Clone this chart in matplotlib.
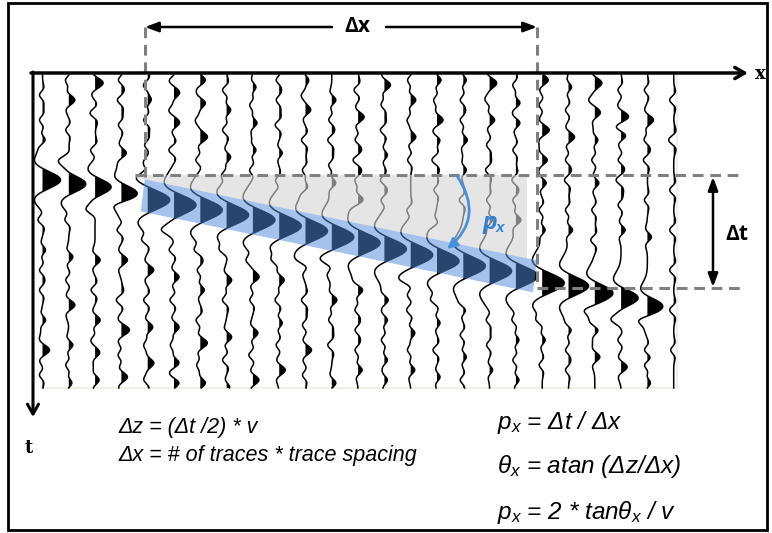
import numpy as np
import matplotlib.pyplot as plt
from matplotlib import font_manager
from matplotlib.patches import Polygon, Rectangle

# main reflection: pick time (px) and peak amplitude (px) for each trace
flat_times = [180, 184, 187, 193]
flat_amps = [18, 17, 16, 15]
dip_times = [200, 205, 210, 215, 220, 226, 231, 237, 243, 249, 255, 261, 266, 271, 276]
dip_amps = [22, 22, 22, 22, 22, 22, 22, 22, 22, 22, 22, 22, 22, 22, 22]
late_times = [283, 286, 293, 298, 306]
late_amps = [22, 20, 18, 17, 15]

# weaker events on every trace (time, amplitude)
noise_events = [
    [(95, -3), (120, -3), (140, 3), (220, -4), (250, 3), (270, -3), (290, -3), (320, 3), (350, 7), (375, -3)],
    [(80, -3), (100, 6), (130, -3), (160, -4), (220, -3), (257, 4), (280, -3), (305, 6), (345, 4), (365, -3), (383, 3)],
    [(83, 8), (113, -5), (150, -4), (210, -3), (260, 5), (290, -4), (320, 5), (340, -3), (353, 4), (380, 4)],
    [(80, -3), (100, -4), (125, -3), (153, 5), (205, -3), (230, -4), (260, 6), (300, -5), (330, 8), (355, -3), (377, 6)],
    [(85, -4), (100, 3), (120, -4), (145, -3), (170, 4), (240, -4), (270, 6), (300, -4), (327, 5), (345, -3), (363, 6), (380, -3)],
    [(80, -3), (93, 5), (110, -3), (123, 5), (150, -5), (230, -3), (250, -4), (277, 5), (300, -4), (327, 5), (345, -3), (363, 5), (383, 5)],
    [(80, 5), (103, 5), (120, -3), (137, 7), (160, -4), (250, -4), (270, -3), (290, 4), (320, -4), (343, 7), (365, -3), (383, 5)],
    [(90, -4), (110, 4), (130, -4), (157, 4), (175, -3), (250, -3), (280, 5), (300, -4), (337, 5), (360, -4), (387, 3)],
    [(87, 3), (105, -3), (123, 4), (150, 3), (170, -3), (260, -4), (277, 6), (300, -3), (333, 5), (355, -4), (380, 6)],
    [(80, -3), (100, -3), (125, -4), (153, 3), (180, -3), (260, -3), (280, 5), (300, -4), (323, 3), (345, -3), (370, 6)],
    [(80, 3), (95, -3), (110, 5), (140, -4), (170, -3), (187, 3), (267, 4), (300, -4), (325, -3), (350, 6), (375, -3)],
    [(100, 4), (120, -3), (140, -4), (165, -3), (183, 4), (267, 5), (300, 5), (320, -3), (345, -4), (383, 4)],
    [(90, -4), (117, 6), (140, -3), (160, -5), (180, -3), (200, 6), (290, 5), (310, -3), (330, -3), (350, -3), (370, 4)],
    [(85, 6), (105, -3), (130, -4), (155, 3), (180, -4), (200, -3), (300, 4), (320, 3), (340, -3), (360, 3), (380, 3)],
    [(80, -3), (100, 5), (120, -3), (137, 5), (160, -3), (210, -3), (287, 5), (310, -4), (333, 4), (350, -3), (370, 4)],
    [(80, 4), (100, -3), (120, 6), (140, 3), (160, -5), (190, -3), (223, 3), (300, -4), (323, 3), (350, -4), (377, 3)],
    [(80, 3), (100, -3), (120, -3), (140, 4), (170, 3), (200, -4), (310, 3), (335, -3), (357, 3), (380, -3)],
    [(83, 7), (100, -3), (120, 5), (145, -3), (170, -4), (200, -3), (220, 3), (320, -3), (345, -3), (370, 3)],
    [(85, -3), (103, 4), (123, 4), (150, -3), (180, -4), (200, -3), (220, 5), (320, -3), (340, 3), (360, -3), (380, 3)],
    [(80, 6), (105, -3), (130, 7), (160, 5), (183, 4), (210, -3), (230, 3), (320, -3), (340, 3), (365, -3)],
    [(87, 3), (110, -3), (137, 6), (160, -3), (180, -4), (210, -3), (230, 4), (330, 3), (350, -3), (370, -3)],
    [(83, 7), (100, -3), (113, 5), (140, 3), (160, -3), (183, 4), (210, -3), (240, -4), (310, -3), (330, 4), (357, 5)],
    [(90, -3), (117, 8), (135, 6), (160, -3), (180, -5), (205, -3), (230, 4), (320, -3), (340, -3), (367, 6)],
    [(90, -3), (120, 6), (140, -3), (160, -4), (200, -3), (237, 4), (320, -3), (350, -3), (365, -3), (383, 3)],
    [(100, -4), (140, -5), (190, -4), (230, -4), (270, -4), (310, -4), (350, -3)],
]

eq_left = ["Δz = (Δt /2) * v", "Δx = # of traces * trace spacing"]
eq_right = [r"$p_x$ = Δt / Δx", r"$\theta_x$ = atan (Δz/Δx)", r"$p_x$ = 2 * tan$\theta_x$ / v"]

try:
    font_manager.findfont("Liberation Sans Narrow", fallback_to_default=False)
    eq_font = "Liberation Sans Narrow"
except ValueError:
    eq_font = "Liberation Sans"

plt.rcParams["mathtext.fontset"] = "custom"
plt.rcParams["mathtext.it"] = eq_font + ":italic"
plt.rcParams["mathtext.rm"] = eq_font + ":italic"


def ricker(tau, w):
    r = (tau / w) ** 2
    return (1 - r) * np.exp(-r / 2)


def trace_x(i):
    return 42.5 + i * 26.3


fig = plt.figure(figsize=(7.72, 5.33), dpi=100)
ax = fig.add_axes([0, 0, 1, 1])
ax.set_xlim(0, 772)
ax.set_ylim(533, 0)
ax.axis("off")

main_events = [(t, a) for t, a in zip(flat_times + dip_times + late_times,
                                        flat_amps + dip_amps + late_amps)]
y = np.linspace(75, 388, 1500)
for i, events in enumerate(noise_events):
    ev = list(events)
    if i < len(main_events):
        ev.append(main_events[i])
    s = np.zeros_like(y)
    for t, a in ev:
        s += a * ricker(y - t, 3.5 + 0.45 * abs(a))
    x0 = trace_x(i)
    ax.fill_betweenx(y, x0, x0 + s, where=s > 0, interpolate=True, color="k", lw=0, zorder=2)
    ax.plot(x0 + s, y, color="k", lw=1.1, zorder=2)

# faint frame of the gather
ax.plot([40, 677, 677], [388, 388, 75], color="#ecece6", lw=1.2, zorder=1)

# band along the dipping event
i0, i1 = len(flat_times), len(flat_times) + len(dip_times) - 1
slope = (dip_times[-1] - dip_times[0]) / (trace_x(i1) - trace_x(i0))
def band_mid(x):
    return dip_times[0] - 4 + slope * (x - trace_x(i0))
xl, xr = trace_x(i0) - 3, trace_x(i1) + 21
half = 16

gray = Polygon([(135, 175), (527, 175), (527, band_mid(527) - half),
                (135, band_mid(135) - half)], closed=True,
               facecolor="#d4d4d4", edgecolor="none", alpha=0.6, zorder=3)
ax.add_patch(gray)
band = Polygon([(xl, band_mid(xl) - half), (xr, band_mid(xr) - half),
                (xr - 4, band_mid(xr) + half), (xl - 4, band_mid(xl) + half)],
               closed=True, facecolor="#4e89d8", edgecolor="none", alpha=0.51, zorder=4)
ax.add_patch(band)

dash = dict(color="#808080", lw=2.2, linestyle=(0, (3.5, 2.2)), zorder=5)
ax.plot([145, 145], [27, 180], **dash)
ax.plot([537, 537], [27, 288], **dash)
ax.plot([135, 742], [175, 175], **dash)
ax.plot([537, 742], [288, 288], **dash)

# axes arrows
ax.annotate("", xy=(748, 73), xytext=(31, 73),
            arrowprops=dict(arrowstyle="->,head_length=0.7,head_width=0.4", lw=2.5, color="k",
                            shrinkA=0, shrinkB=0), zorder=6)
ax.annotate("", xy=(33, 417), xytext=(33, 72),
            arrowprops=dict(arrowstyle="->,head_length=0.7,head_width=0.4", lw=2.2, color="k",
                            shrinkA=0, shrinkB=0), zorder=6)
ax.text(760, 74, "x", fontsize=13, fontweight="bold", family="DejaVu Serif", ha="center", va="center")
ax.text(29, 448, "t", fontsize=13, fontweight="bold", family="DejaVu Serif", ha="center", va="center")

# delta x arrows
arr = dict(arrowstyle="-|>,head_length=0.8,head_width=0.3", lw=1.8, color="k", shrinkA=0, shrinkB=0)
ax.annotate("", xy=(145, 27), xytext=(332, 27), arrowprops=arr)
ax.annotate("", xy=(537, 27), xytext=(386, 27), arrowprops=arr)
ax.text(357, 27, "Δx", fontsize=15, fontweight="bold", family="Open Sans", ha="center", va="center")

# delta t arrow
arr2 = dict(arrowstyle="<|-|>,head_length=0.8,head_width=0.3", lw=1.8, color="k", shrinkA=0, shrinkB=0)
ax.annotate("", xy=(713, 177), xytext=(713, 287), arrowprops=arr2)
ax.text(737, 235, "Δt", fontsize=15, fontweight="bold", family="Open Sans", ha="center", va="center")

# p_x curved arrow
ax.annotate("", xy=(447, 249), xytext=(457, 176),
            arrowprops=dict(arrowstyle="-|>,head_length=0.6,head_width=0.3", color="#4a8fdc", lw=2,
                            connectionstyle="arc3,rad=-0.45", shrinkA=0, shrinkB=0), zorder=6)
ax.text(483, 222, "p", fontsize=17, fontweight="bold", fontstyle="italic", color="#2f80d4",
        family="Liberation Sans", ha="left", va="center")
ax.text(496, 228, "x", fontsize=11, fontweight="bold", fontstyle="italic", color="#2f80d4",
        family="Liberation Sans", ha="left", va="center")

# formulas
for k, s in enumerate(eq_left):
    ax.text(118, 428 + 27 * k, s, fontsize=15.5, fontstyle="italic", family=eq_font, va="center")
for k, s in enumerate(eq_right):
    ax.text(497, 422 + 45 * k, s, fontsize=17.5, fontstyle="italic", family=eq_font, va="center")

ax.add_patch(Rectangle((8, 3), 759, 527, fill=False, lw=2, edgecolor="k", zorder=7))

fig.savefig("out.png", dpi=100)
